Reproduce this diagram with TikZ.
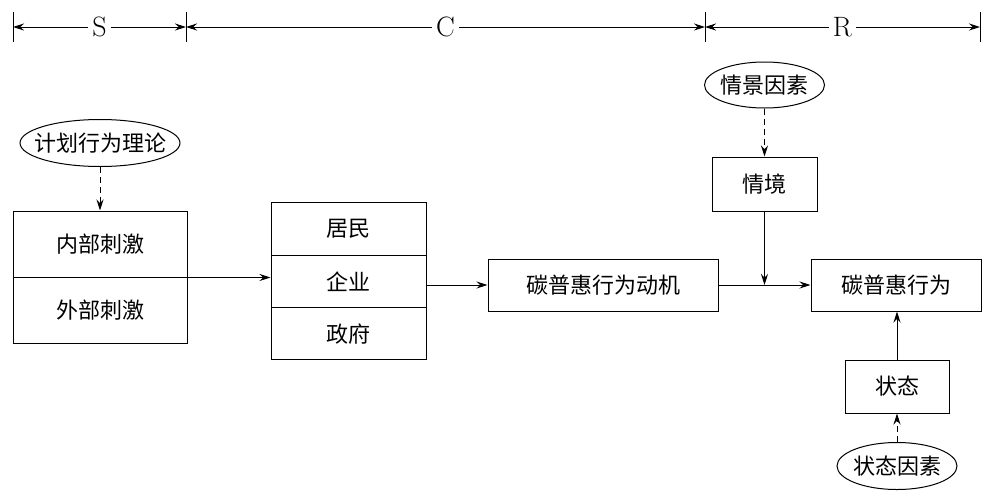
\documentclass[tikz,border=0pt]{standalone}
\usepackage{fontspec}
\newfontfamily\cjk{Noto Sans CJK SC}
\usetikzlibrary{arrows.meta,shapes.geometric}
\newcommand\cjktext{\cjk\fontsize{22}{26}\selectfont}
\newcommand\lettext{\fontsize{28}{32}\selectfont}

\begin{document}
\begin{tikzpicture}[x=1pt,y=-1pt,line width=1pt,
  >={Stealth[length=11pt,width=7pt]},
  box/.style={draw,rectangle,inner sep=0pt,font=\cjktext},
  oval/.style={draw,ellipse,inner sep=0pt},
  dash line/.style={dash pattern=on 6pt off 4pt}]
  \useasboundingbox (0,0) rectangle (990,498);

  % S - C - R scale on top
  \foreach \x [count=\i from 0] in {13,186,705,980} {
    \coordinate (d\i) at (\x,27);
    \draw (\x,12) -- (\x,42);
  }
  \draw [<->] (d0) -- node [fill=white,inner xsep=4pt,font=\lettext] {S} (d1);
  \draw [<->] (d1) -- node [fill=white,inner xsep=4pt,font=\lettext] {C} (d2);
  \draw [<->] (d2) -- node [fill=white,inner xsep=4pt,font=\lettext] {R} (d3);

  % stimulus
  \node [oval,minimum width=160,minimum height=47,label={[font=\cjktext]center:计划行为理论}] (tpb) at (100,143) {};
  \node [box,minimum width=174,minimum height=66] (inner) at (100,244) {内部刺激};
  \node [box,minimum width=174,minimum height=66] (outer) at (100,310) {外部刺激};

  % organism
  \node [box,minimum width=155,minimum height=52.3] (resid) at (348.5,229) {居民};
  \node [box,minimum width=155,minimum height=52.3] (firm) at (348.5,281.5) {企业};
  \node [box,minimum width=155,minimum height=52.3] (gov) at (348.5,333.8) {政府};
  \node [box,minimum width=230,minimum height=52] (motive) at (603,285) {碳普惠行为动机};

  % response
  \node [box,minimum width=170,minimum height=52] (behav) at (896,285) {碳普惠行为};
  \node [box,minimum width=105,minimum height=54] (situ) at (764.5,184) {情境};
  \node [oval,minimum width=120,minimum height=46,label={[font=\cjktext]center:情景因素}] (scene) at (764.5,85) {};
  \node [box,minimum width=104,minimum height=53] (state) at (897,386.5) {状态};
  \node [oval,minimum width=120,minimum height=47,label={[font=\cjktext]center:状态因素}] (statef) at (897,466) {};

  \draw [->,dash line] (tpb) -- (inner);
  \draw [->] (inner.south east) -- (inner.south east -| firm.west);
  \draw [->] (firm.east |- motive.west) -- (motive.west);
  \draw [->] (motive) -- (behav);
  \draw [->,dash line] (scene) -- (situ);
  \draw [->] (situ) -- (situ |- motive.east);
  \draw [->] (state) -- (state |- behav.south);
  \draw [->,dash line] (statef) -- (state);
\end{tikzpicture}
\end{document}
